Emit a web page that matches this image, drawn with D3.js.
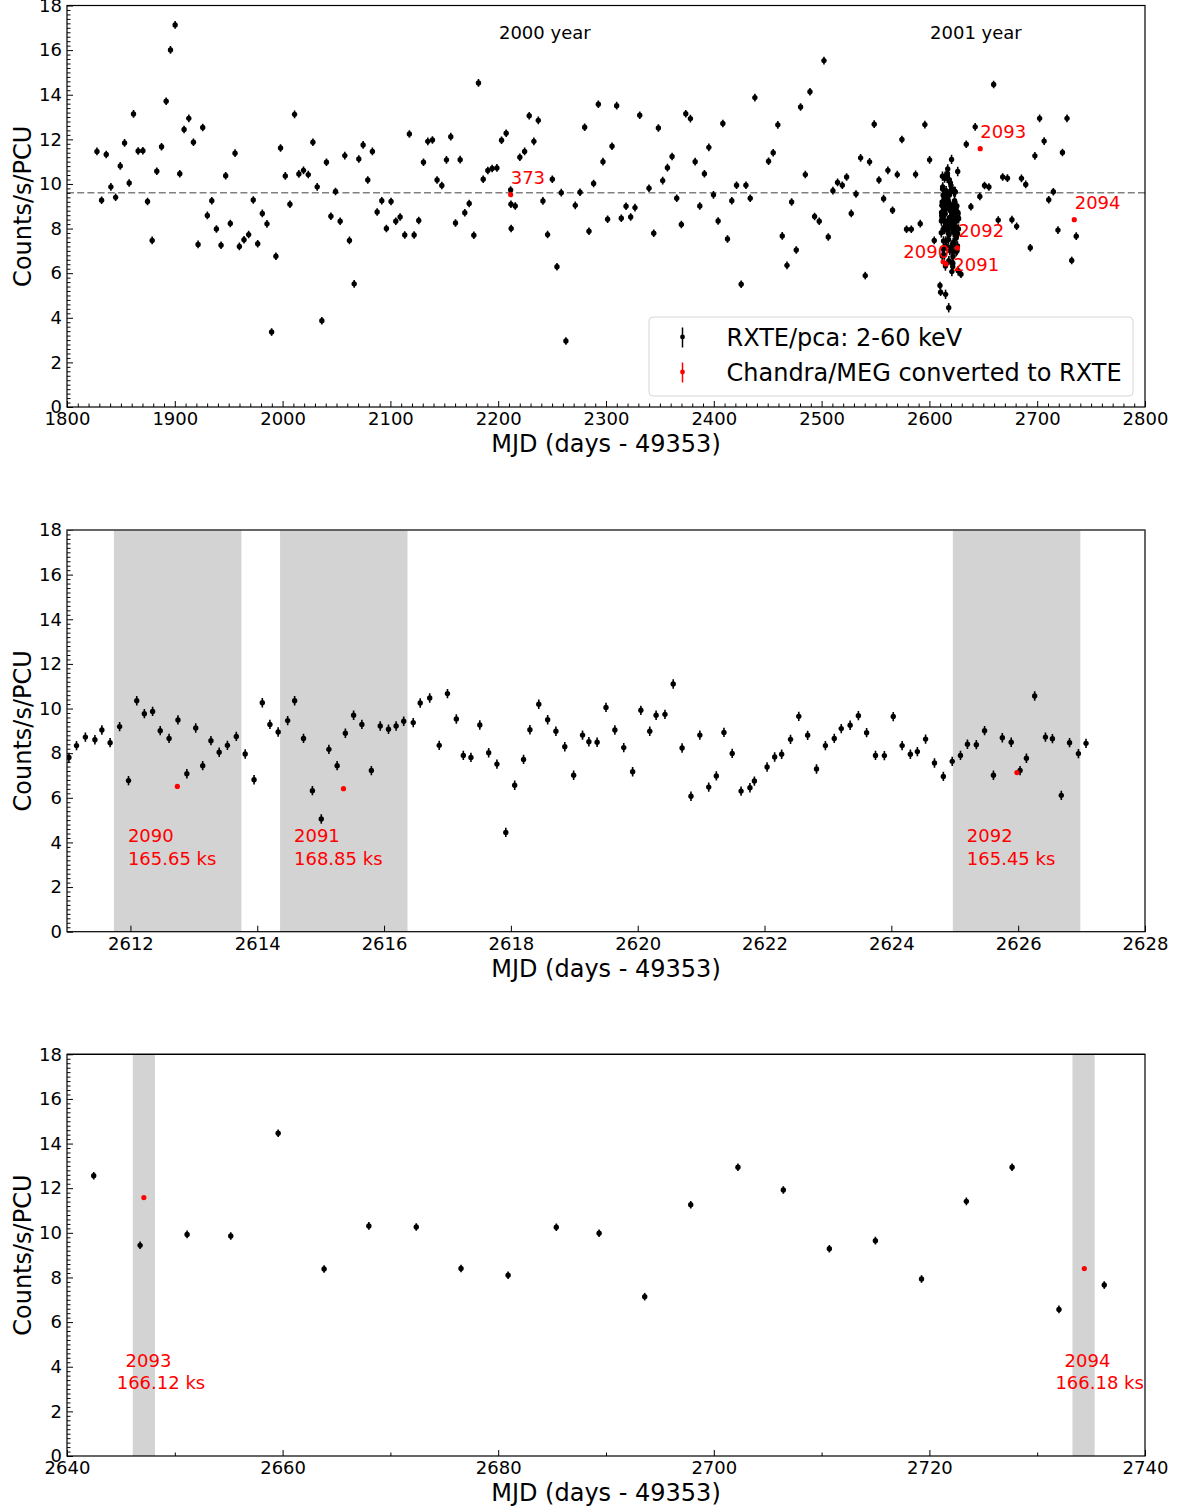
<!DOCTYPE html>
<html><head><meta charset="utf-8">
<script src="https://cdn.jsdelivr.net/npm/d3@7"></script>
<style>
body{margin:0;background:#fff}
svg{display:block}
text{font-family:"DejaVu Sans",sans-serif}
</style>
</head><body>
<svg id="chart" width="1182" height="1510"></svg>
<script>
// ---------------- DATA ----------------
// RXTE/pca monitoring observations: [MJD-49353, counts/s/PCU]
const monitorData = [
[1827.8,11.46],[1832.1,9.27],[1836.4,11.32],[1840.7,9.87],[1845.1,9.40],[1849.4,10.81],[1853.4,11.84],[1857.7,10.04],
[1861.7,13.14],[1866.0,11.48],[1870.4,11.49],[1874.7,9.21],[1879.0,7.47],[1883.3,10.57],[1887.7,11.67],[1892.0,13.71],
[1896.0,16.01],[1900.3,17.13],[1904.6,10.46],[1908.6,12.44],[1913.0,12.94],[1917.3,11.87],[1921.6,7.29],[1925.9,12.53],
[1930.2,8.59],[1934.3,9.25],[1938.6,7.98],[1942.9,7.25],[1947.2,10.37],[1951.5,8.23],[1955.9,11.38],[1959.9,7.20],
[1964.2,7.50],[1968.5,7.73],[1972.8,9.28],[1976.9,7.32],[1981.2,8.68],[1985.5,8.21],[1989.8,3.36],[1993.8,6.76],
[1998.1,11.61],[2002.5,10.36],[2006.8,9.09],[2011.1,13.12],[2015.1,10.45],[2019.4,10.61],[2023.8,10.42],[2028.1,11.87],
[2032.1,9.87],[2036.4,3.87],[2040.7,10.97],[2044.8,8.55],[2049.1,9.66],[2053.4,8.33],[2057.7,11.27],[2062.0,7.47],
[2066.4,5.52],[2070.7,11.12],[2074.7,11.75],[2079.0,10.18],[2083.3,11.46],[2087.7,8.74],[2092.0,9.25],[2096.3,8.00],
[2100.6,9.21],[2105.0,8.33],[2109.0,8.52],[2113.3,7.71],[2117.6,12.24],[2122.0,7.71],[2126.3,8.36],[2130.7,10.97],
[2134.7,11.91],[2139.0,11.97],[2143.3,10.18],[2147.7,9.93],[2152.0,11.08],[2156.0,12.12],[2160.4,8.25],[2164.7,11.09],
[2169.0,8.71],[2173.1,9.12],[2177.4,7.70],[2181.7,14.53],[2186.1,10.21],[2190.4,10.60],[2194.4,10.69],[2198.8,10.72],
[2203.1,11.96],[2207.4,12.27],[2211.5,9.73],[2211.8,9.09],[2212.0,8.00],[2215.8,9.01],[2220.1,11.20],[2224.5,11.46],
[2228.8,13.06],[2233.1,11.91],[2237.2,12.85],[2241.5,9.24],[2245.8,7.73],[2250.2,10.21],[2254.5,6.29],[2258.5,9.61],
[2262.8,2.96],[2271.5,9.04],[2275.9,9.63],[2280.2,12.54],[2284.2,7.88],[2288.5,10.02],[2292.9,13.57],[2297.2,11.00],
[2301.5,8.42],[2305.6,11.69],[2309.9,13.51],[2314.2,8.46],[2318.6,9.00],[2322.9,8.52],[2326.9,8.94],[2331.3,13.08],
[2339.9,9.81],[2344.3,7.79],[2348.6,12.51],[2352.6,10.15],[2357.0,10.73],[2361.3,11.23],[2365.6,9.36],[2369.9,8.18],
[2374.0,13.15],[2378.3,12.93],[2382.7,11.00],[2387.0,9.01],[2391.3,10.46],[2395.4,11.64],[2399.7,9.51],[2404.0,8.34],
[2408.4,12.71],[2412.7,7.53],[2416.7,9.25],[2421.1,9.94],[2425.4,5.50],[2429.8,9.94],[2433.8,9.36],[2438.1,13.87],
[2450.8,11.02],[2455.1,11.40],[2459.4,12.65],[2463.5,7.67],[2467.9,6.35],[2472.2,9.19],[2476.5,7.04],[2480.5,13.45],
[2484.9,10.42],[2489.2,14.13],[2493.5,8.54],[2497.8,8.33],[2502.2,15.53],[2506.2,7.62],[2510.5,9.70],[2514.8,10.07],
[2519.2,9.94],[2523.2,10.31],[2527.5,8.68],[2531.9,9.55],[2536.2,11.17],[2540.5,5.89],[2544.5,10.99],[2548.8,12.68],
[2553.2,10.18],[2557.5,9.34],[2561.5,10.61],[2565.8,8.82],[2570.2,10.42],[2574.5,11.99],[2578.8,7.97],[2583.2,7.97],
[2587.2,10.43],[2591.5,8.22],[2595.8,12.66],[2600.2,11.08],[2604.5,7.47],[2609.8,5.45],[2610.4,5.15],[2629.3,5.95],
[2634.2,11.78],[2638.5,8.98],
[2642.48,12.56],[2646.78,9.44],[2651.14,9.93],[2655.19,9.86],[2659.59,14.46],[2663.85,8.38],[2668.0,10.31],[2672.4,10.26],
[2676.55,8.40],[2680.92,8.10],[2685.39,10.25],[2689.36,9.98],[2693.59,7.14],[2697.86,11.26],[2702.24,12.94],[2706.45,11.92],
[2710.72,9.29],[2714.99,9.65],[2719.27,7.93],[2723.43,11.41],[2727.67,12.94],[2732.02,6.57],[2736.22,7.66]
];
const monitorErr = 0.17;

// RXTE/pca dense coverage during Chandra observations 2090-2092
const clusterData = [
[2611.03,7.81],[2611.15,8.34],[2611.29,8.72],[2611.44,8.60],[2611.55,9.04],[2611.68,8.47],[2611.83,9.19],[2611.97,6.77],
[2612.10,10.35],[2612.22,9.77],[2612.35,9.87],[2612.47,9.01],[2612.61,8.66],[2612.75,9.49],[2612.89,7.08],[2613.03,9.13],
[2613.14,7.44],[2613.27,8.56],[2613.40,8.04],[2613.53,8.35],[2613.67,8.75],[2613.81,7.96],[2613.95,6.81],[2614.08,10.26],
[2614.20,9.29],[2614.33,8.95],[2614.48,9.46],[2614.59,10.35],[2614.73,8.66],[2614.87,6.32],[2615.01,5.05],[2615.13,8.17],
[2615.26,7.44],[2615.39,8.89],[2615.52,9.70],[2615.65,9.29],[2615.80,7.22],[2615.94,9.22],[2616.07,9.07],[2616.19,9.22],
[2616.31,9.43],[2616.46,9.37],[2616.57,10.25],[2616.72,10.47],[2616.87,8.35],[2617.00,10.67],[2617.14,9.53],[2617.25,7.90],
[2617.37,7.81],[2617.51,9.26],[2617.65,8.02],[2617.78,7.51],[2617.92,4.45],[2618.06,6.56],[2618.20,7.72],[2618.30,9.05],
[2618.44,10.19],[2618.58,9.50],[2618.71,8.98],[2618.85,8.29],[2618.99,7.01],[2619.13,8.81],[2619.23,8.51],[2619.36,8.49],
[2619.50,10.05],[2619.64,9.04],[2619.78,8.25],[2619.92,7.17],[2620.05,9.92],[2620.19,8.98],[2620.29,9.70],[2620.43,9.74],
[2620.56,11.10],[2620.70,8.23],[2620.84,6.07],[2620.98,8.81],[2621.12,6.48],[2621.24,6.98],[2621.36,8.93],[2621.49,7.99],
[2621.63,6.30],[2621.77,6.45],[2621.84,6.75],[2622.04,7.38],[2622.16,7.83],[2622.27,7.95],[2622.41,8.62],[2622.54,9.65],
[2622.68,8.80],[2622.82,7.29],[2622.96,8.34],[2623.10,8.66],[2623.21,9.10],[2623.35,9.25],[2623.48,9.68],[2623.61,8.92],
[2623.75,7.90],[2623.89,7.89],[2624.03,9.64],[2624.17,8.34],[2624.30,7.95],[2624.41,8.07],[2624.54,8.63],[2624.68,7.56],
[2624.82,6.96],[2624.96,7.63],[2625.09,7.90],[2625.20,8.40],[2625.34,8.38],[2625.47,9.01],[2625.61,7.01],[2625.75,8.69],
[2625.89,8.49],[2626.03,7.22],[2626.13,7.77],[2626.26,10.56],[2626.43,8.72],[2626.54,8.65],[2626.68,6.11],[2626.81,8.47],
[2626.95,7.98],[2627.07,8.44]
];
const clusterErr = 0.21;

// Chandra/MEG converted to RXTE: [obsid, MJD-49353, counts/s/PCU]
const chandraData = [
["373",2211.5,9.52],["2090",2612.74,6.51],["2091",2615.36,6.41],
["2092",2625.98,7.13],["2093",2647.13,11.58],["2094",2734.37,8.40]
];
// Chandra exposure windows and exposures
const chandraSpans = [
["2090","165.65 ks",2611.74,2613.75],["2091","168.85 ks",2614.36,2616.37],["2092","165.45 ks",2624.97,2626.98],
["2093","166.12 ks",2646.10,2648.16],["2094","166.18 ks",2733.27,2735.33]
];
// label anchors (data coordinates) for the overview panel
const overviewLabels = [
["373",2211.6,10.0],["2093",2647.2,12.08],["2094",2734.8,8.88],
["2092",2626.8,7.62],["2090",2575.8,6.69],["2091",2622.2,6.11]
];
// span label anchors: [obsid x, exposure x] at y=4 and y=3
const spanLabelX = {
"2090":[2611.96,2611.96],"2091":[2614.58,2614.58],"2092":[2625.19,2625.19],
"2093":[2645.43,2644.61],"2094":[2732.54,2731.69]
};
const yearLabels = [["2000 year",2200.7],["2001 year",2600.6]];
const meanRate = 9.6;
const yTicks = [0,2,4,6,8,10,12,14,16,18];
const xLabel = "MJD (days - 49353)";
const yLabel = "Counts/s/PCU";
const legendLabels = ["RXTE/pca: 2-60 keV","Chandra/MEG converted to RXTE"];

// ---------------- LAYOUT ----------------
const svg = d3.select("#chart");
const L = 67, R = 1145;
const panels = [
  {top:5.5, bottom:407, domain:[1800,2800], major:d3.range(1800,2801,100), minor:d3.range(1800,2801,10), spans:[], overview:true, topStroke:"#000"},
  {top:530, bottom:931.7, domain:[2611,2628], major:d3.range(2612,2629,2), minor:[], spans:chandraSpans.slice(0,3), topStroke:"#666"},
  {top:1054.3, bottom:1456, domain:[2640,2740], major:d3.range(2640,2741,20), minor:d3.range(2640,2741,10), spans:chandraSpans.slice(3), topStroke:"#000"}
];
const yMinor = d3.range(0,18.001,0.2).map(v=>+v.toFixed(1));

panels.forEach((p,i)=>{
  const x = d3.scaleLinear().domain(p.domain).range([L,R]);
  const y = d3.scaleLinear().domain([0,18]).range([p.bottom,p.top]);
  const g = svg.append("g");
  const clipId = "clip"+i;
  svg.append("clipPath").attr("id",clipId).append("rect")
    .attr("x",L).attr("y",p.top).attr("width",R-L).attr("height",p.bottom-p.top);
  const plot = g.append("g").attr("clip-path",`url(#${clipId})`);

  // shaded exposure windows
  plot.selectAll("rect.span").data(p.spans).enter().append("rect")
    .attr("x",d=>x(d[2])).attr("width",d=>x(d[3])-x(d[2]))
    .attr("y",p.top).attr("height",p.bottom-p.top).attr("fill","#d3d3d3");

  if(p.overview){
    plot.append("line").attr("x1",L).attr("x2",R).attr("y1",y(meanRate)).attr("y2",y(meanRate))
      .attr("stroke","#808080").attr("stroke-width",1.5).attr("stroke-dasharray","7,3.2");
  }

  // data
  const inDom = d=>d[0]>=p.domain[0]-0.5 && d[0]<=p.domain[1]+0.5;
  let pts = [];
  if(p.overview){
    pts = monitorData.map(d=>[d[0],d[1],monitorErr]).concat(clusterData.map(d=>[d[0],d[1],clusterErr]));
  } else {
    pts = monitorData.filter(inDom).map(d=>[d[0],d[1],monitorErr])
      .concat(clusterData.filter(inDom).map(d=>[d[0],d[1],clusterErr]));
  }
  const pg = plot.append("g");
  pg.selectAll("line").data(pts).enter().append("line")
    .attr("x1",d=>x(d[0])).attr("x2",d=>x(d[0]))
    .attr("y1",d=>y(d[1]-d[2])).attr("y2",d=>y(d[1]+d[2]))
    .attr("stroke","#000").attr("stroke-width",1.6);
  pg.selectAll("circle").data(pts).enter().append("circle")
    .attr("cx",d=>x(d[0])).attr("cy",d=>y(d[1])).attr("r",2.7).attr("fill","#000");

  const cd = chandraData.filter(d=>d[1]>=p.domain[0]&&d[1]<=p.domain[1]);
  plot.selectAll("circle.ch").data(cd).enter().append("circle")
    .attr("cx",d=>x(d[1])).attr("cy",d=>y(d[2])).attr("r",2.6).attr("fill","#ff0000");

  // labels
  if(p.overview){
    g.selectAll("text.ol").data(overviewLabels).enter().append("text")
      .attr("x",d=>x(d[1])).attr("y",d=>y(d[2])).attr("fill","#ff0000").attr("font-size",18).text(d=>d[0]);
    g.selectAll("text.yr").data(yearLabels).enter().append("text")
      .attr("x",d=>x(d[1])).attr("y",y(16.5)).attr("fill","#000").attr("font-size",18).text(d=>d[0]);
  } else {
    p.spans.forEach(s=>{
      const lx = spanLabelX[s[0]];
      g.append("text").attr("x",x(lx[0])).attr("y",y(4)).attr("fill","#ff0000").attr("font-size",18).text(s[0]);
      g.append("text").attr("x",x(lx[1])).attr("y",y(3)).attr("fill","#ff0000").attr("font-size",18).text(s[1]);
    });
  }

  // axes
  const styleAxis = sel=>{
    sel.select(".domain").remove();
    sel.selectAll("line").attr("stroke","#000").attr("stroke-width",1);
    sel.selectAll("text").attr("font-family","DejaVu Sans").attr("font-size",18).attr("fill","#000");
  };
  if(p.minor.length){
    g.append("g").attr("transform",`translate(0,${p.bottom})`)
      .call(d3.axisBottom(x).tickValues(p.minor.filter(v=>!p.major.includes(v))).tickSize(-3.5).tickFormat(""))
      .call(styleAxis);
  }
  g.append("g").attr("transform",`translate(0,${p.bottom})`)
    .call(d3.axisBottom(x).tickValues(p.major).tickSize(-6).tickPadding(5.5).tickFormat(d3.format("d")))
    .call(styleAxis);
  g.append("g").attr("transform",`translate(${L},0)`)
    .call(d3.axisLeft(y).tickValues(yMinor.filter(v=>!yTicks.includes(v))).tickSize(-3.5).tickFormat(""))
    .call(styleAxis);
  g.append("g").attr("transform",`translate(${L},0)`)
    .call(d3.axisLeft(y).tickValues(yTicks).tickSize(-6).tickPadding(5).tickFormat(d3.format("d")))
    .call(styleAxis);

  // frame
  g.append("rect").attr("x",L).attr("y",p.top).attr("width",R-L).attr("height",p.bottom-p.top)
    .attr("fill","none").attr("stroke","#000").attr("stroke-width",1.2);
  g.append("line").attr("x1",L).attr("x2",R).attr("y1",p.top).attr("y2",p.top)
    .attr("stroke",p.topStroke).attr("stroke-width",1.2);

  // axis titles
  g.append("text").attr("x",(L+R)/2).attr("y",p.bottom+45).attr("text-anchor","middle")
    .attr("font-size",24).attr("fill","#000").text(xLabel);
  g.append("text").attr("transform",`translate(31,${(p.top+p.bottom)/2}) rotate(-90)`)
    .attr("text-anchor","middle").attr("font-size",24).attr("fill","#000").text(yLabel);

  // legend
  if(p.overview){
    const lg = g.append("g");
    lg.append("rect").attr("x",649).attr("y",317).attr("width",484).attr("height",79).attr("rx",4)
      .attr("fill","#fff").attr("fill-opacity",0.8).attr("stroke","#d6d6d6").attr("stroke-width",1);
    const cols = ["#000","#ff0000"];
    legendLabels.forEach((t,k)=>{
      const cy = 337 + k*35;
      lg.append("line").attr("x1",682.5).attr("x2",682.5).attr("y1",cy-9.5).attr("y2",cy+10.5)
        .attr("stroke",cols[k]).attr("stroke-width",1.5);
      lg.append("circle").attr("cx",682.5).attr("cy",cy).attr("r",2.4).attr("fill",cols[k]);
      lg.append("text").attr("x",726.5).attr("y",cy+8.5).attr("font-size",24).attr("fill","#000").text(t);
    });
  }
});
</script>
</body></html>
